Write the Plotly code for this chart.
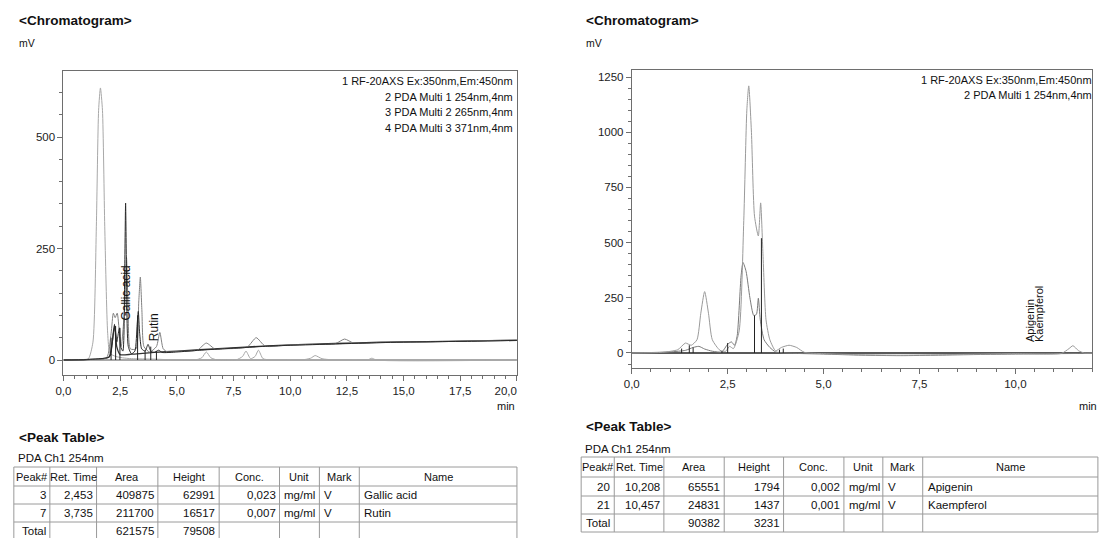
import plotly.graph_objects as go

W, H = 1116, 538
FONT = "Liberation Sans, Arial, sans-serif"

# ---------------- data: left chromatogram (min, mV) ----------------
l_ch1_t = [0, 0.8, 1.1, 1.3, 1.45, 1.55, 1.63, 1.72, 1.82, 1.95, 2.05, 2.3, 2.6, 3.0, 4.0, 5.0, 5.8, 6.1, 6.3, 6.5, 6.8,
           7.6, 7.9, 8.05, 8.25, 8.45, 8.6, 8.8, 9.2, 10.5, 10.9, 11.1, 11.4, 12.0, 13.4, 13.6, 13.8, 20.0]
l_ch1_y = [0, 1, 3, 40, 300, 560, 610, 560, 300, 60, 15, 8, 5, 3, 2, 0, 0, 5, 18, 5, 0,
           0, 8, 20, 3, 8, 22, 3, 0, 0, 4, 10, 3, 0, 0, 4, 0, 0]

l_ch2_t = [0, 1.0, 1.8, 2.05, 2.2, 2.27, 2.35, 2.42, 2.47, 2.52, 2.62, 2.7, 2.74, 2.78, 2.86, 3.0, 3.15, 3.25, 3.3,
           3.36, 3.45, 3.6, 3.73, 3.85, 4.0, 4.2, 4.35, 5.0, 6.0, 7.0, 8.0, 9.0, 10.0, 12.0, 14.0, 16.0, 18.0, 20.0]
l_ch2_y = [0, 1, 4, 8, 60, 76, 40, 60, 72, 30, 20, 200, 352, 200, 30, 14, 20, 80, 109,
           60, 25, 20, 35, 20, 17, 22, 17, 18, 22, 25, 28, 31, 33, 36, 39, 41, 42, 44]

l_ch3_t = [0, 1.0, 1.9, 2.1, 2.2, 2.28, 2.37, 2.47, 2.55, 2.7, 2.78, 2.85, 2.95, 3.2, 3.32, 3.39, 3.46, 3.55, 3.8,
           4.1, 4.25, 4.4, 4.6, 5.0, 5.9, 6.3, 6.7, 7.0, 8.1, 8.5, 8.9, 10.0, 12.0, 12.4, 12.8, 14.0, 16.0, 18.0, 20.0]
l_ch3_y = [0, 1, 5, 60, 105, 95, 105, 60, 30, 120, 230, 120, 25, 25, 130, 186, 110, 30, 18,
           30, 62, 25, 18, 19, 22, 38, 24, 25, 29, 50, 31, 34, 37, 47, 38, 39, 41, 43, 45]

l_ch4_t = [0, 1.0, 2.0, 2.15, 2.25, 2.35, 2.5, 3.0, 3.5, 4.0, 5.0, 6.0, 8.0, 10.0, 12.0, 14.0, 16.0, 18.0, 20.0]
l_ch4_y = [0, 1, 6, 40, 80, 30, 12, 13, 15, 17, 20, 23, 29, 34, 37, 40, 41, 43, 44]

l_drop_t = [2.1, 2.3, 2.49, 3.27, 3.6, 3.85, 4.1]
l_drop_y = [50, 76, 72, 100, 22, 30, 20]

# ---------------- data: right chromatogram (min, mV) ----------------
r_ch1_t = [0, 0.8, 1.2, 1.4, 1.55, 1.7, 1.8, 1.9, 2.0, 2.1, 2.3, 2.45, 2.55, 2.65, 2.8, 2.92, 3.0, 3.05, 3.12, 3.2,
           3.3, 3.36, 3.42, 3.5, 3.6, 3.75, 3.9, 4.1, 4.3, 4.5, 5.0, 6.0, 7.0, 8.0, 9.0, 10.0, 11.2, 11.4, 11.5,
           11.65, 11.8, 12.0]
r_ch1_y = [0, 3, 15, 45, 35, 60, 180, 278, 180, 60, 12, 8, 30, 20, 100, 600, 1100, 1210, 1000, 620,
           530, 680, 450, 150, 60, 10, 25, 35, 25, 3, -3, -8, -10, -8, -5, -3, -2, 20, 33,
           10, 0, 0]

r_ch2_t = [0, 1.0, 1.4, 1.6, 1.75, 1.9, 2.1, 2.35, 2.5, 2.6, 2.68, 2.75, 2.85, 2.9, 2.98, 3.08, 3.18, 3.25, 3.3,
           3.35, 3.45, 3.6, 3.75, 4.0, 5.0, 6.0, 7.0, 8.0, 9.0, 10.0, 11.0, 12.0]
r_ch2_y = [0, 5, 12, 25, 30, 18, 8, 5, 40, 50, 35, 80, 350, 410, 370, 250, 170, 175, 248,
           150, 60, 25, 5, 0, -5, -10, -12, -10, -7, -5, -3, -2]

r_drop_t = [1.3, 1.5, 1.6, 2.35, 2.5, 3.2, 3.38, 3.85, 3.95]
r_drop_y = [20, 35, 25, 8, 45, 170, 520, 15, 20]

# ---------------- axis ticks ----------------
l_xticks = [0, 2.5, 5, 7.5, 10, 12.5, 15, 17.5, 20]
l_xlabels = ["0,0", "2,5", "5,0", "7,5", "10,0", "12,5", "15,0", "17,5", "20,0"]
l_yticks = [0, 250, 500]
r_xticks = [0, 2.5, 5, 7.5, 10]
r_xlabels = ["0,0", "2,5", "5,0", "7,5", "10,0"]
r_yticks = [0, 250, 500, 750, 1000, 1250]

legend_left = ["1 RF-20AXS Ex:350nm,Em:450nm", "2 PDA Multi 1 254nm,4nm",
               "3 PDA Multi 2 265nm,4nm", "4 PDA Multi 3 371nm,4nm"]
legend_right = ["1 RF-20AXS Ex:350nm,Em:450nm", "2 PDA Multi 1 254nm,4nm"]

# ---------------- peak tables ----------------
headers = ["Peak#", "Ret. Time", "Area", "Height", "Conc.", "Unit", "Mark", "Name"]
l_peak = ["3", "7", "Total"]
l_rt = ["2,453", "3,735", ""]
l_area = ["409875", "211700", "621575"]
l_height = ["62991", "16517", "79508"]
l_conc = ["0,023", "0,007", ""]
l_unit = ["mg/ml", "mg/ml", ""]
l_mark = ["V", "V", ""]
l_name = ["Gallic acid", "Rutin", ""]

r_peak = ["20", "21", "Total"]
r_rt = ["10,208", "10,457", ""]
r_area = ["65551", "24831", "90382"]
r_height = ["1794", "1437", "3231"]
r_conc = ["0,002", "0,001", ""]
r_unit = ["mg/ml", "mg/ml", ""]
r_mark = ["V", "V", ""]
r_name = ["Apigenin", "Kaempferol", ""]

# ---------------- figure ----------------
def px(x):
    return x / W

def py(y):
    return 1 - y / H

fig = go.Figure()

def add_line(t, y, color, xa, ya, width=1.0, shape="spline"):
    fig.add_trace(go.Scatter(x=t, y=y, mode="lines", xaxis=xa, yaxis=ya,
                             line=dict(color=color, width=width, shape=shape, smoothing=0.6),
                             hoverinfo="skip", showlegend=False))

def add_drops(t, y, xa, ya, color="#222"):
    xs, ys = [], []
    for a, b in zip(t, y):
        xs += [a, a, None]
        ys += [0, b, None]
    fig.add_trace(go.Scatter(x=xs, y=ys, mode="lines", xaxis=xa, yaxis=ya,
                             line=dict(color=color, width=1), hoverinfo="skip", showlegend=False))

# left
add_line([0, 20], [0, 0], "#555", "x", "y", 1.2, "linear")
add_line(l_ch1_t, l_ch1_y, "#a8a8a8", "x", "y")
add_line(l_ch4_t, l_ch4_y, "#333", "x", "y", 1.3)
add_line(l_ch3_t, l_ch3_y, "#808080", "x", "y")
add_line(l_ch2_t, l_ch2_y, "#2a2a2a", "x", "y")
add_drops(l_drop_t, l_drop_y, "x", "y")
# right
add_line([0, 12], [0, 0], "#222", "x2", "y2", 1.3, "linear")
add_line(r_ch2_t, r_ch2_y, "#7a7a7a", "x2", "y2")
add_line(r_ch1_t, r_ch1_y, "#9a9a9a", "x2", "y2")
add_drops(r_drop_t, r_drop_y, "x2", "y2")

axis_common = dict(showline=True, mirror=True, linecolor="#6e6e6e", linewidth=1, showgrid=False,
                   zeroline=False, ticks="outside", ticklen=5, tickcolor="#6e6e6e",
                   tickfont=dict(family=FONT, size=11.5, color="#222"), fixedrange=True)

NB = "\u00a0"
l_xlabels_drawn = l_xlabels[:-1] + [l_xlabels[-1] + NB * 7]

fig.update_layout(
    width=W, height=H, margin=dict(l=0, r=0, t=0, b=0),
    paper_bgcolor="white", plot_bgcolor="white", showlegend=False,
    font=dict(family=FONT, color="#222"),
    xaxis=dict(domain=[px(57), px(523)], range=[0, 20], anchor="y",
               tickvals=l_xticks, ticktext=l_xlabels_drawn,
               minor=dict(dtick=0.5, ticks="outside", ticklen=3, tickcolor="#6e6e6e"), **axis_common),
    yaxis=dict(domain=[py(375), py(71)], range=[-33.6, 648], anchor="x",
               tickvals=l_yticks,
               minor=dict(dtick=50, ticks="outside", ticklen=3, tickcolor="#6e6e6e"), **axis_common),
    xaxis2=dict(domain=[px(641), px(1114)], range=[0, 12.0], anchor="y2",
                tickvals=r_xticks, ticktext=r_xlabels,
                minor=dict(dtick=0.5, ticks="outside", ticklen=3, tickcolor="#6e6e6e"), **axis_common),
    yaxis2=dict(domain=[py(368), py(70)], range=[-68, 1282], anchor="x2",
                tickvals=r_yticks,
                minor=dict(dtick=50, ticks="outside", ticklen=3, tickcolor="#6e6e6e"), **axis_common),
)

ann = []

def text(x, y, s, size=11, anchor="left", bold=False, yanchor="middle"):
    ann.append(dict(x=px(x), y=py(y), xref="paper", yref="paper", text=("<b>%s</b>" % s) if bold else s,
                    showarrow=False, xanchor=anchor, yanchor=yanchor,
                    font=dict(family=FONT, size=size, color="#111")))

# headers
text(9, 21, "&lt;Chromatogram&gt;", 13.5, bold=True)
text(9, 43, "mV", 10.5)
text(592, 21, "&lt;Chromatogram&gt;", 13.5, bold=True)
text(592, 43, "mV", 10.5)
for i, s in enumerate(legend_left):
    text(521, 81 + i * 15.5, s, 11, "right")
for i, s in enumerate(legend_right):
    text(1116, 80 + i * 15.5, s, 11, "right")
text(523, 406, "min", 11, "right")
text(1121, 406, "min", 11, "right")

# rotated peak labels
def peak_label(t, yv, s, xa, ya, size):
    ann.append(dict(x=t, y=yv, xref=xa, yref=ya, text=s, showarrow=False, textangle=-90,
                    xanchor="center", yanchor="bottom", xshift=6,
                    font=dict(family=FONT, size=size, color="#111")))

peak_label(2.453, 83, "Gallic acid", "x", "y", 12)
peak_label(3.735, 38, "Rutin", "x", "y", 12)
peak_label(10.208, 40, "Apigenin", "x2", "y2", 11)
peak_label(10.457, 40, "Kaempferol", "x2", "y2", 11)

shapes = []

def hline(x0, x1, y):
    shapes.append(dict(type="line", xref="paper", yref="paper", x0=px(x0), x1=px(x1), y0=py(y), y1=py(y),
                       line=dict(color="#9a9a9a", width=1)))

def vline(x, y0, y1):
    shapes.append(dict(type="line", xref="paper", yref="paper", x0=px(x), x1=px(x), y0=py(y0), y1=py(y1),
                       line=dict(color="#9a9a9a", width=1)))

def table(x0, cols, title_y, ch_y, lines_y, rows):
    text(x0 + 1, title_y, "&lt;Peak Table&gt;", 13.5, bold=True)
    text(x0, ch_y, "PDA Ch1 254nm", 11.5)
    for y in lines_y:
        hline(cols[0], cols[-1], y)
    for c in cols:
        vline(c, lines_y[0], lines_y[-1])
    centers = [(lines_y[i] + lines_y[i + 1]) / 2 for i in range(len(lines_y) - 1)]
    for j, h in enumerate(headers):
        text((cols[j] + cols[j + 1]) / 2, centers[0], h, 11, "center")
    aligns = ["right", "right", "right", "right", "right", "left", "left", "left"]
    for r, row in enumerate(rows):
        for j, v in enumerate(row):
            if not v:
                continue
            if aligns[j] == "right":
                text(cols[j + 1] - 2, centers[r + 1], v, 11.5, "right")
            else:
                text(cols[j] + 3, centers[r + 1], v, 11.5, "left")

l_rows = list(zip(l_peak, l_rt, l_area, l_height, l_conc, l_unit, l_mark, l_name))
r_rows = list(zip(r_peak, r_rt, r_area, r_height, r_conc, r_unit, r_mark, r_name))

table(8, [6, 43, 91, 154, 217, 279, 320, 361, 523], 437, 458, [467, 486, 504, 522, 540], l_rows)
table(591, [589, 623, 674, 736, 797, 859, 899, 940, 1120], 427, 449, [457, 477, 496, 514, 532], r_rows)

fig.update_layout(annotations=ann, shapes=shapes)

# remove the default page margin so the 1116x538 figure fills the window exactly
reset_css = ("document.documentElement.style.margin='0';document.documentElement.style.overflow='hidden';"
             "document.body.style.margin='0';document.body.style.overflow='hidden';")
fig.write_html("out.html", post_script=reset_css, config={"displayModeBar": False})
